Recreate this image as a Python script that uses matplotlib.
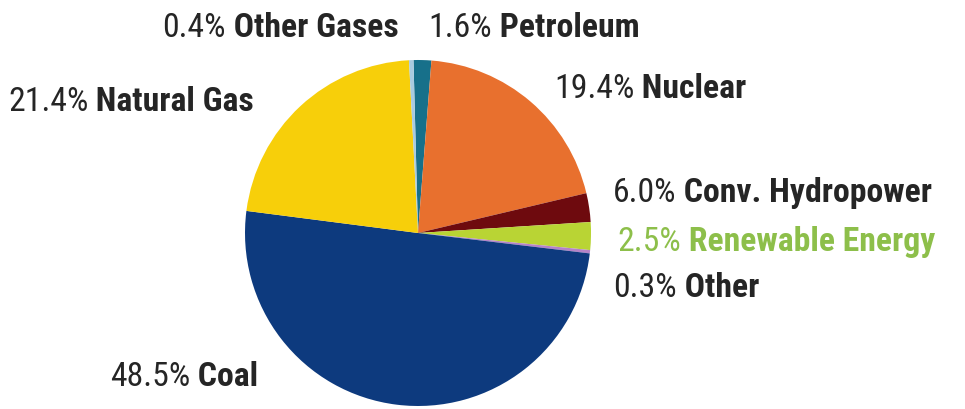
import matplotlib
matplotlib.use('Agg')
import matplotlib.pyplot as plt
from matplotlib import font_manager as fm

# label values (as printed) and drawn wedge sizes (read off the picture;
# the hydropower wedge is drawn much smaller than its 6.0% label)
names = ['Petroleum', 'Nuclear', 'Conv. Hydropower', 'Renewable Energy',
         'Other', 'Coal', 'Natural Gas', 'Other Gases']
pct_labels = ['1.6%', '19.4%', '6.0%', '2.5%', '0.3%', '48.5%', '21.4%', '0.4%']
wedge_sizes = [1.6, 19.4, 2.6, 2.5, 0.3, 48.5, 21.4, 0.4]
colors = ['#17708a', '#e8702e', '#6e0a0e', '#b9d434', '#b483c8',
          '#0d3a7e', '#f7cf0a', '#a9cbe0']
text_colors = ['#252525', '#252525', '#252525', '#8dbf4a', '#252525',
               '#252525', '#252525', '#252525']

# label anchor points (left x, baseline y) in pixels from the top-left
label_pos = [(428, 37), (554, 98), (613, 202), (617, 251), (613, 297),
             (110, 386), (8, 111), (162, 37)]

W, H = 965, 409
fs = 24.3


def num(v, table, default):
    if isinstance(v, (int, float)):
        return v
    return table.get(v, default)


def narrow_font(weight):
    # look for some condensed face, the reference uses a narrow grotesque
    prefer = ['Liberation Sans Narrow', 'Roboto Condensed', 'DejaVu Sans',
              'Open Sans', 'Noto Sans', 'Open Sans Condensed']
    best, best_score = None, None
    for f in fm.fontManager.ttflist:
        st = num(f.stretch, fm.stretch_dict, 500)
        if not (st < 500 or 'Narrow' in f.name or 'Condensed' in f.name):
            continue
        if f.style != 'normal':
            continue
        w = num(f.weight, fm.weight_dict, 400)
        rank = prefer.index(f.name) if f.name in prefer else len(prefer)
        score = (rank, abs(w - weight), abs(st - 300))
        if best_score is None or score < best_score:
            best, best_score = f, score
    if best is None:
        return fm.FontProperties(family='DejaVu Sans', weight=weight, size=fs * 0.8)
    return fm.FontProperties(fname=best.fname, size=fs)


reg = narrow_font(400)
bold = narrow_font(700)

fig = plt.figure(figsize=(W / 100, H / 100), dpi=100)
ax = fig.add_axes([0, 0, 1, 1])

ax.pie(wedge_sizes, colors=colors, startangle=91.5, counterclock=False,
       center=(418, H - 233), radius=173,
       wedgeprops=dict(linewidth=0))
ax.set_xlim(0, W)
ax.set_ylim(0, H)
ax.set_aspect('equal')
ax.axis('off')

for name, pct, (x, y), tc in zip(names, pct_labels, label_pos, text_colors):
    t = ax.text(x, H - y, pct, fontproperties=reg, color=tc,
                ha='left', va='baseline')
    ax.annotate(' ' + name, xy=(1, 0), xycoords=t, fontproperties=bold,
                color=tc, ha='left', va='bottom')

fig.savefig('out.png', dpi=100)
